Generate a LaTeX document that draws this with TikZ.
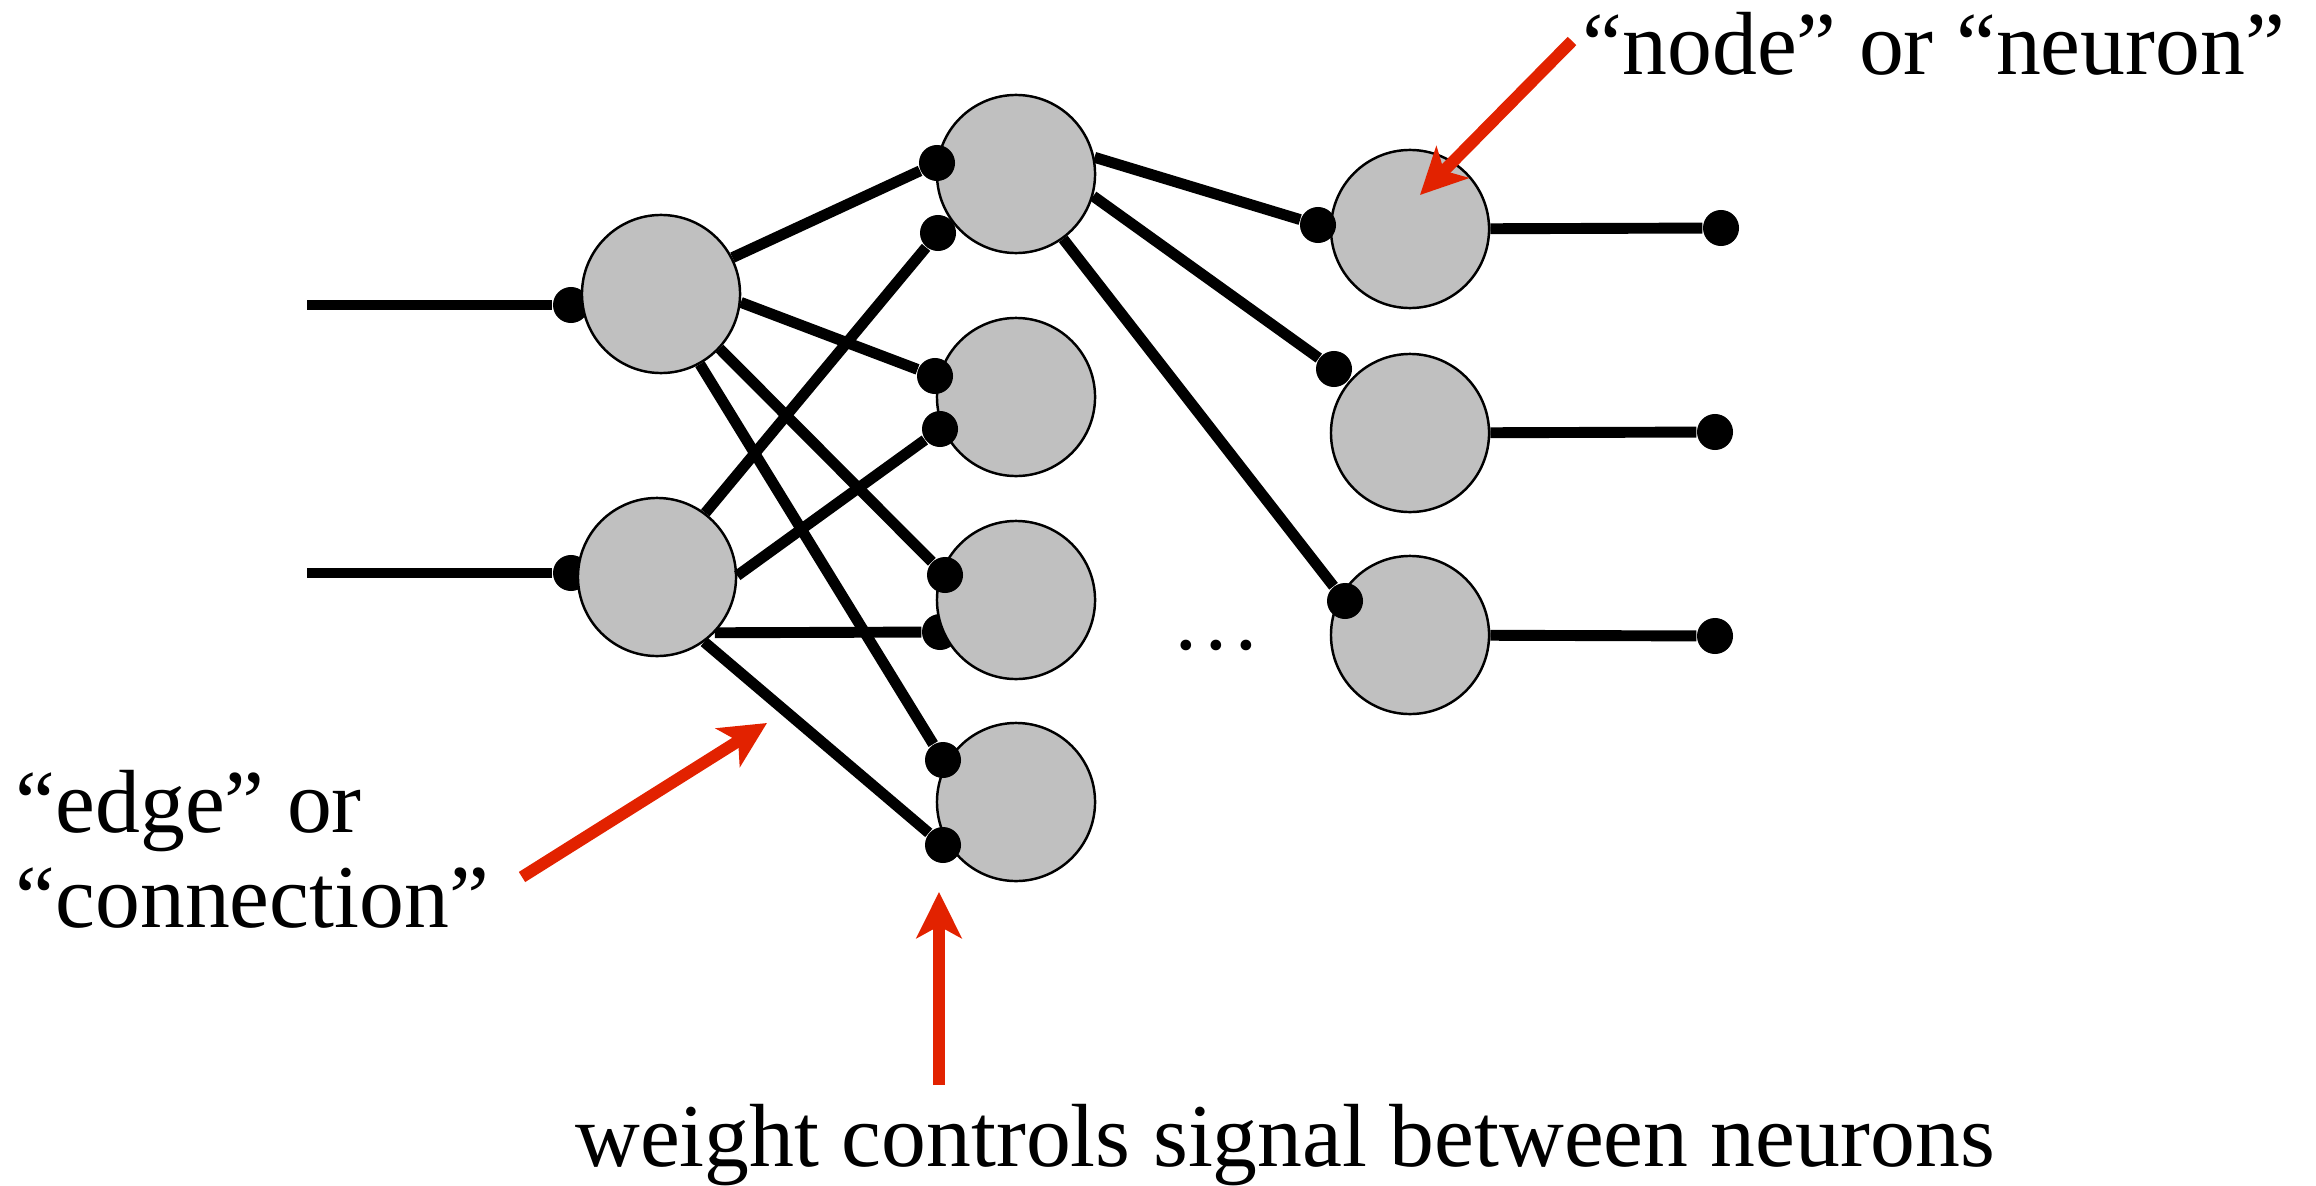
\documentclass[tikz,border=0pt]{standalone}
\usepackage{fontspec}
\setmainfont{Liberation Serif}
\usetikzlibrary{arrows.meta,backgrounds}
\definecolor{neurongray}{RGB}{192,192,192}
\definecolor{notered}{RGB}{226,34,0}
\begin{document}
\begin{tikzpicture}[x=0.01cm,y=-0.01cm,
  neuron/.style={circle,draw,line width=0.7pt,fill=neurongray,minimum size=1.58cm,inner sep=0pt},
  syn/.style={circle,fill,minimum size=0.36cm,inner sep=0pt},
  wire/.style={line width=3.1pt},
  note/.style={notered,line width=3.4pt,-{Stealth[length=0.46cm,width=0.45cm,inset=0.12cm]}},
  lbl/.style={inner sep=0pt,font=\fontsize{25.5pt}{26.8pt}\selectfont}]
\useasboundingbox (0,0) rectangle (2316,1185);
%
% neurons
\node[neuron] (I1) at (661,294) {};
\node[neuron] (I2) at (657,577) {};
\node[neuron] (H1) at (1016,174) {};
\node[neuron] (H2) at (1016,397) {};
\node[neuron] (H3) at (1016,600) {};
\node[neuron] (H4) at (1016,802) {};
\node[neuron] (O1) at (1410,229) {};
\node[neuron] (O2) at (1410,433) {};
\node[neuron] (O3) at (1410,635) {};
%
% inputs, and the one edge that runs under H3
\begin{scope}[on background layer]
\coordinate (in1) at (307,305);
\coordinate (in2) at (307,573);
\node[syn] (x1) at (571,305) {};
\node[syn] (x2) at (571,573) {};
\draw[wire] (in1) -- (x1);
\draw[wire] (in2) -- (x2);
\node[syn] (H3b) at (940,632) {};
\draw[wire] (I2.-44) -- (H3b);
\end{scope}
%
% synapses
\node[syn] (H1a) at (937,163) {};
\node[syn] (H1b) at (938,233) {};
\node[syn] (H2a) at (935,376) {};
\node[syn] (H2b) at (940,429) {};
\node[syn] (H3a) at (945,575) {};
\node[syn] (H4a) at (943,760) {};
\node[syn] (H4b) at (943,845) {};
\node[syn] (O1a) at (1318,225) {};
\node[syn] (O2a) at (1334,369) {};
\node[syn] (O3a) at (1345,601) {};
\node[syn] (y1) at (1721,228) {};
\node[syn] (y2) at (1715,432) {};
\node[syn] (y3) at (1715,636) {};
%
\draw[wire] (I1.27.5) -- (H1a);
\draw[wire] (I1.-6) -- (H2a);
\draw[wire] (I1.-43.5) -- (H3a);
\draw[wire] (I1.-61.6) -- (H4a);
\draw[wire] (I2.53.6) -- (H1b);
\draw[wire] (I2.1.5) -- (H2b);
\draw[wire] (I2.-54) -- (H4b);
\draw[wire] (H1.12) -- (O1a);
\draw[wire] (H1.-16) -- (O2a);
\draw[wire] (H1.-54.5) -- (O3a);
\draw[wire] (O1) -- (y1);
\draw[wire] (O2) -- (y2);
\draw[wire] (O3) -- (y3);
%
\node[lbl,anchor=base] (more) at (1216,649) {…};
%
% labels and pointers
\node[lbl,anchor=base west] (neuronlbl) at (1582,75) {“node” or “neuron”};
\node[lbl,anchor=base west,align=left] (edgelbl) at (15,927) {“edge” or\\“connection”};
\node[lbl,anchor=base] (weightlbl) at (1285,1166) {weight controls signal between neurons};
\coordinate (neurontip) at (1420,195);
\coordinate (edgetip) at (767,723);
\coordinate (weighttip) at (939,892);
\draw[note] (1572,41) -- (neurontip);
\draw[note] (522,877) -- (edgetip);
\draw[note] (939,1085) -- (weighttip);
\end{tikzpicture}
\end{document}
